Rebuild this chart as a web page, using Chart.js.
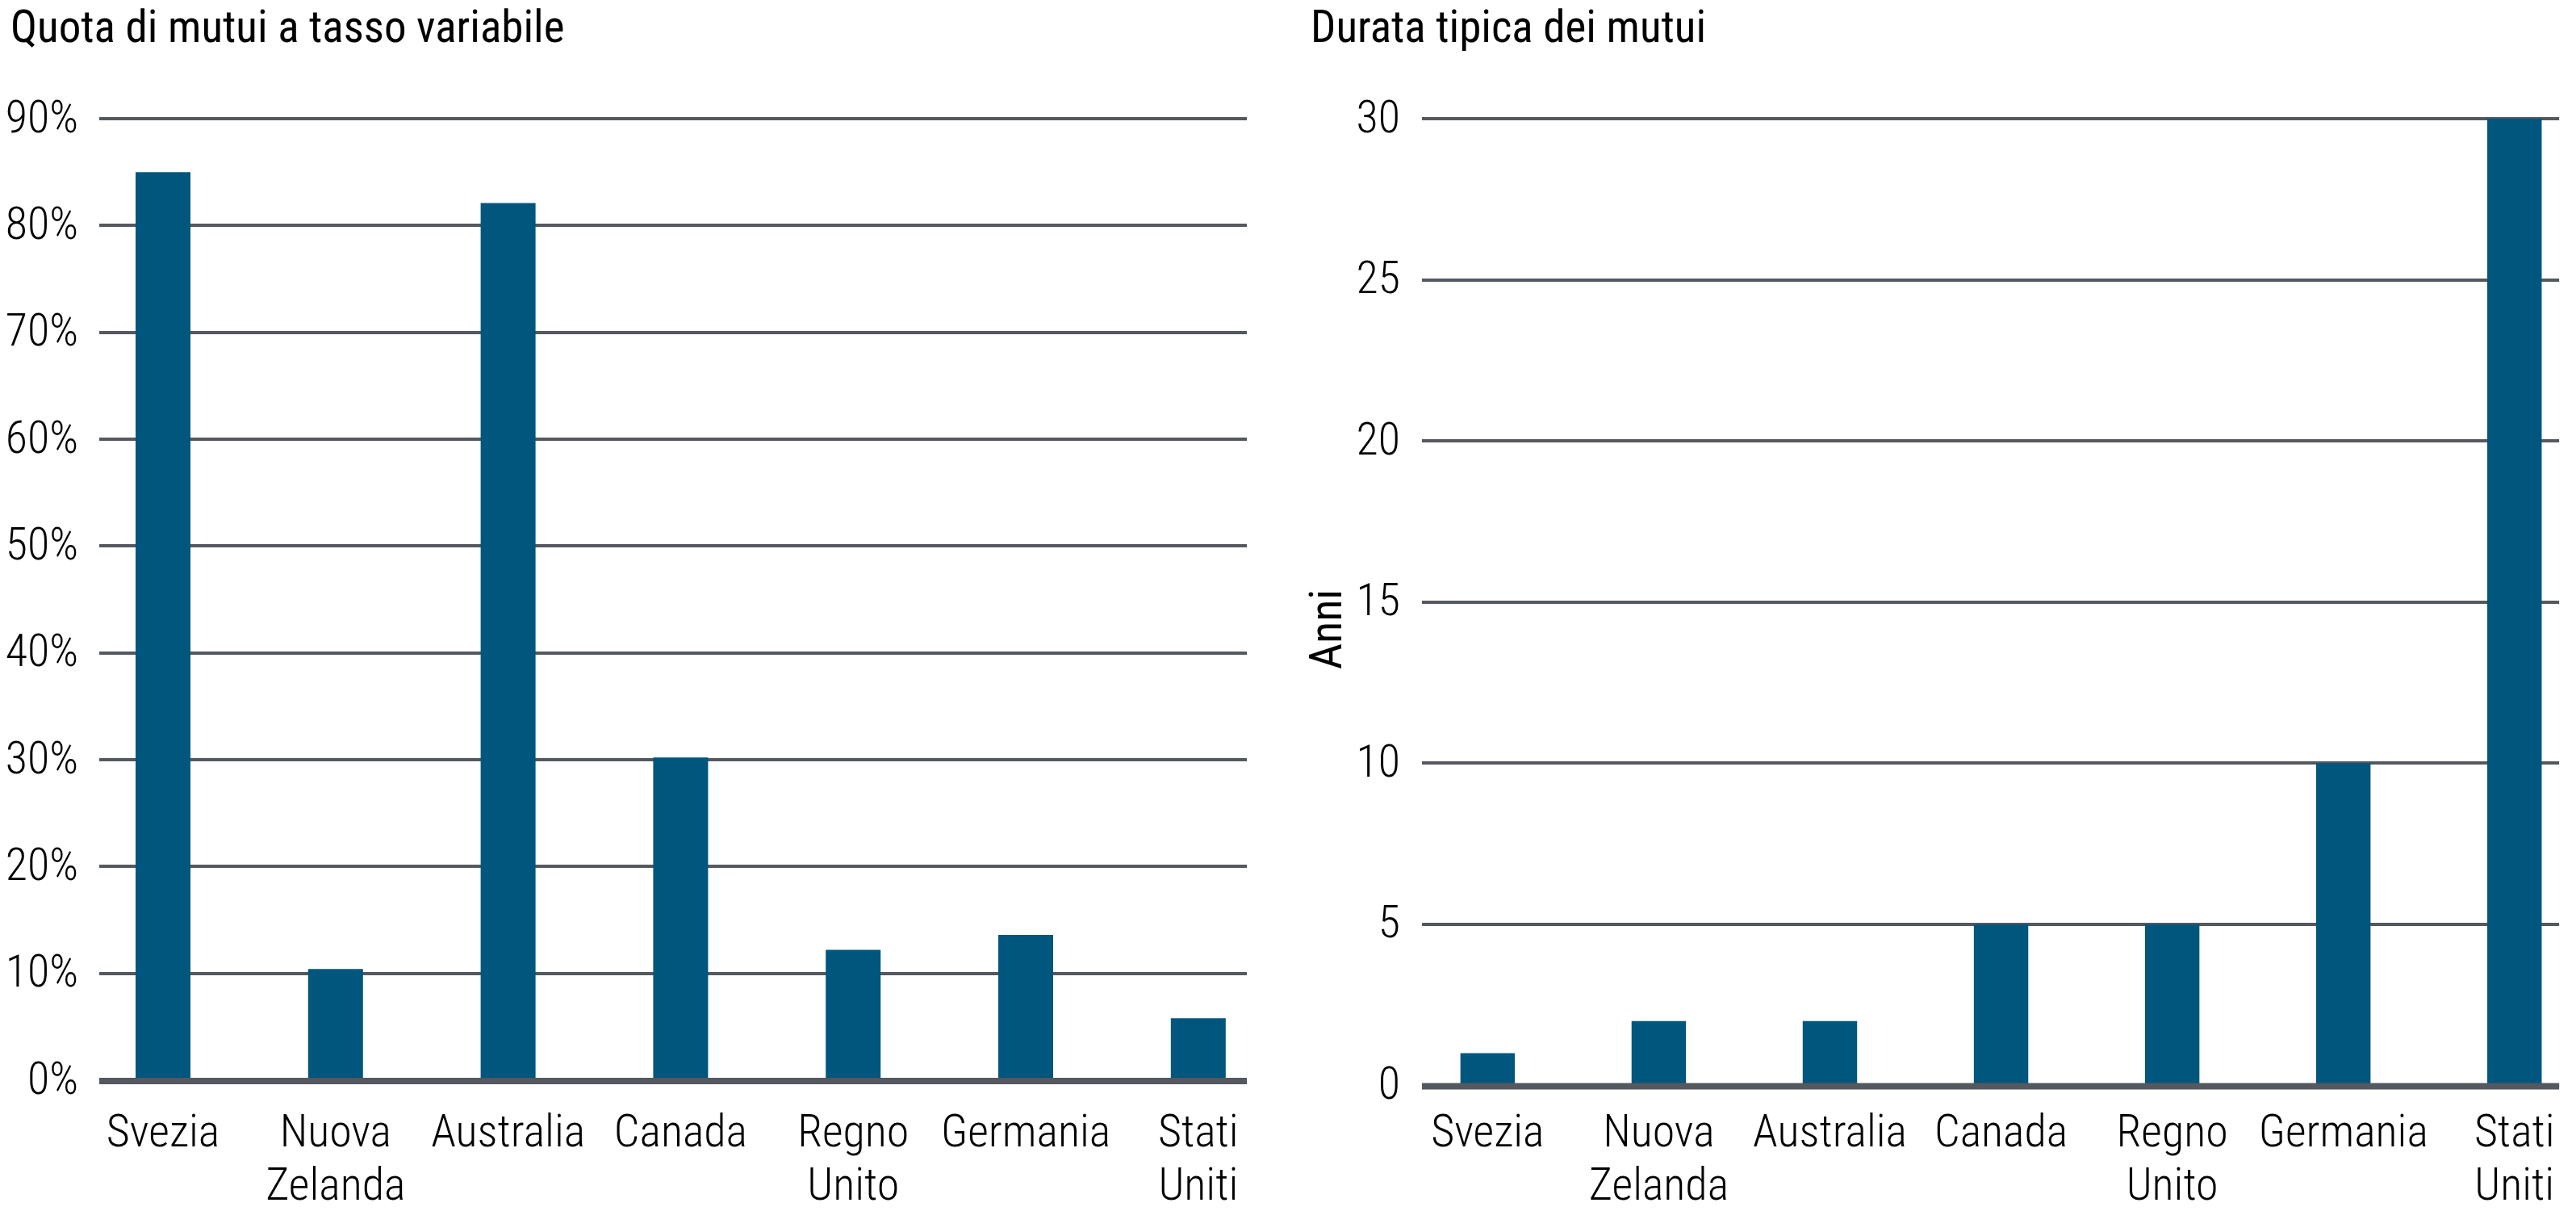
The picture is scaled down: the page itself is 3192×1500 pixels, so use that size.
<!DOCTYPE html>
<html><head><meta charset="utf-8">
<script src="https://cdn.jsdelivr.net/npm/chart.js@4.4.1/dist/chart.umd.min.js"></script>
<style>
html,body{margin:0;padding:0;background:#fff;}
#wrap{position:relative;width:3192px;height:1500px;overflow:hidden;background:#fff;}
canvas{position:absolute;top:0;}
#c1{left:0;width:1580px;height:1500px;}
#c2{left:1580px;width:1612px;height:1500px;}
</style></head><body>
<div id="wrap">
<canvas id="c1" width="1580" height="1500"></canvas>
<canvas id="c2" width="1612" height="1500"></canvas>
</div>
<script>
// ---- data ----
const categories = [['Svezia'], ['Nuova', 'Zelanda'], ['Australia'], ['Canada'], ['Regno', 'Unito'], ['Germania'], ['Stati', 'Uniti']];
const variableShare = [85, 10.4, 82.1, 30.2, 12.2, 13.6, 5.8];
const typicalTerm = [1, 2, 2, 5, 5, 10, 30];
const shareTicks = [0, 10, 20, 30, 40, 50, 60, 70, 80, 90];
const termTicks = [0, 5, 10, 15, 20, 25, 30];
const titleLeft = 'Quota di mutui a tasso variabile';
const titleRight = 'Durata tipica dei mutui';
const yTitleRight = 'Anni';

// ---- style ----
const BAR = '#00567d';
const GRID = '#54585f';
const FONT = "'Roboto Condensed',sans-serif";
const FONT_LIGHT = "'Roboto Condensed Light','Roboto Condensed',sans-serif";

const decor = {
  id: 'decor',
  afterDatasetsDraw(chart, args, opts) {
    const {ctx, chartArea, scales: {y}} = chart;
    const y0 = y.getPixelForValue(0);
    ctx.save();
    ctx.strokeStyle = GRID;
    ctx.lineWidth = 8;
    ctx.beginPath();
    ctx.moveTo(chartArea.left, y0 + 1);
    ctx.lineTo(chartArea.right, y0 + 1);
    ctx.stroke();
    ctx.restore();
  },
  afterDraw(chart, args, opts) {
    const {ctx} = chart;
    ctx.save();
    ctx.fillStyle = '#000';
    ctx.font = '55px ' + FONT;
    ctx.textAlign = 'left';
    ctx.textBaseline = 'alphabetic';
    ctx.fillText(opts.title, opts.titleX, 52);
    if (opts.yTitle) {
      ctx.font = '56px ' + FONT;
      ctx.translate(opts.yTitleX, opts.yTitleY);
      ctx.rotate(-Math.PI / 2);
      ctx.textAlign = 'center';
      ctx.fillText(opts.yTitle, 0, 0);
    }
    ctx.restore();
  }
};

function makeChart(id, values, ticks, opt) {
  const data = values.map((v, i) => ({x: i, y: v}));
  return new Chart(document.getElementById(id), {
    type: 'bar',
    data: {
      datasets: [{
        data: data,
        backgroundColor: BAR,
        borderWidth: 0,
        categoryPercentage: 1,
        barPercentage: 0.318
      }]
    },
    plugins: [decor],
    options: {
      responsive: false,
      devicePixelRatio: 1,
      animation: false,
      layout: {padding: {top: 147, left: 0, right: opt.padRight, bottom: 0}},
      plugins: {
        legend: {display: false},
        tooltip: {enabled: false},
        title: {display: false},
        decor: {title: opt.title, titleX: opt.titleX, yTitle: opt.yTitle, yTitleX: opt.yTitleX, yTitleY: opt.yTitleY}
      },
      scales: {
        x: {
          type: 'linear',
          offset: false,
          min: opt.xMin,
          max: opt.xMax,
          grid: {display: false, drawTicks: false, offset: false},
          border: {display: false},
          afterFit: s => { s.height = opt.xHeight; },
          afterBuildTicks: s => { s.ticks = categories.map((c, i) => ({value: i})); },
          ticks: {
            autoSkip: false,
            maxRotation: 0,
            padding: opt.xPad,
            color: '#000',
            font: {family: FONT_LIGHT, size: 56, lineHeight: 1.18},
            callback: v => categories[v]
          }
        },
        y: {
          min: 0,
          max: ticks[ticks.length - 1],
          grid: {color: GRID, lineWidth: 4, drawTicks: false},
          border: {display: false},
          afterFit: s => { s.width = opt.yWidth; },
          afterBuildTicks: s => { s.ticks = ticks.map(v => ({value: v})); },
          ticks: {
            padding: opt.yPad,
            color: '#000',
            font: {family: FONT_LIGHT, size: 56},
            callback: v => v + opt.suffix
          }
        }
      }
    }
  });
}

makeChart('c1', variableShare, shareTicks, {
  padRight: 35, xHeight: 162, xPad: 32, yWidth: 123, yPad: 26, suffix: '%',
  xMin: -0.3695, xMax: 6.2815,
  title: titleLeft, titleX: 13
});
makeChart('c2', typicalTerm, termTicks, {
  padRight: 10, xHeight: 155.5, xPad: 26, yWidth: 182, yPad: 27, suffix: '',
  xMin: -0.3837, xMax: 6.261,
  title: titleRight, titleX: 44, yTitle: yTitleRight, yTitleX: 81.7, yTitleY: 779.5
});
</script>
</body></html>
